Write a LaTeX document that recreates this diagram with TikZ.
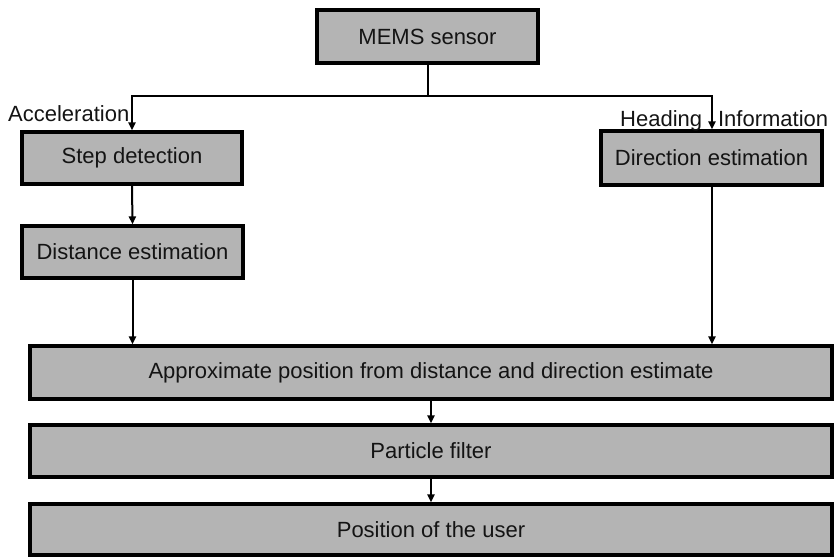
\documentclass[tikz,border=0pt]{standalone}
\usepackage{fontspec}
\setmainfont{Liberation Sans}
\usetikzlibrary{arrows.meta}
\definecolor{boxgray}{RGB}{180,180,180}
\definecolor{ink}{RGB}{20,20,20}
\tikzset{
  box/.style={draw=black, line width=3.2pt, fill=boxgray, inner sep=0pt,
    font=\fontsize{22}{26}\selectfont, text=ink},
  conn/.style={draw=black, line width=2pt},
  arr/.style={conn, -{Triangle[length=8pt,width=7pt]}},
  lbl/.style={inner sep=0pt, font=\fontsize{22}{26}\selectfont, text=ink}
}
\begin{document}
\begin{tikzpicture}[x=1pt,y=-1pt]
\useasboundingbox (0,0) rectangle (838,557);
\node[box, minimum width=221pt, minimum height=53pt] (mems) at (427.5,36.5) {MEMS sensor};
\node[box, minimum width=220pt, minimum height=52pt] (step) at (132,158) {Step detection};
\node[box, minimum width=221pt, minimum height=52pt] (dist) at (132.5,252) {Distance estimation};
\node[box, minimum width=221pt, minimum height=54pt] (dir) at (711.5,158) {Direction estimation};
\node[box, minimum width=802pt, minimum height=53pt] (approx) at (431,372.5) {Approximate position from distance and direction estimate};
\node[box, minimum width=802pt, minimum height=52pt] (pf) at (431,451) {Particle filter};
\node[box, minimum width=802pt, minimum height=51pt] (pos) at (431,529.5) {Position of the user};
\node[lbl, anchor=base west] (acc) at (8,121) {Acceleration};
\node[lbl, anchor=base west] (head) at (620,126) {Heading\hskip 16pt Information};
\coordinate (bl) at (132,96);
\coordinate (br) at (712,96);
\draw[conn] (mems.south) -- (mems.south |- bl);
\draw[arr] (mems.south |- bl) -- (bl) -- (step.north);
\draw[arr] (mems.south |- br) -- (br) -- (br |- dir.north);
\draw[arr] (step.south) -- (dist.north);
\draw[arr] (dist.south) -- (dist.south |- approx.north);
\draw[arr] (br |- dir.south) -- (br |- approx.north);
\draw[arr] (approx.south -| pf.north) -- (pf.north);
\draw[arr] (pf.south) -- (pos.north);
\end{tikzpicture}
\end{document}
